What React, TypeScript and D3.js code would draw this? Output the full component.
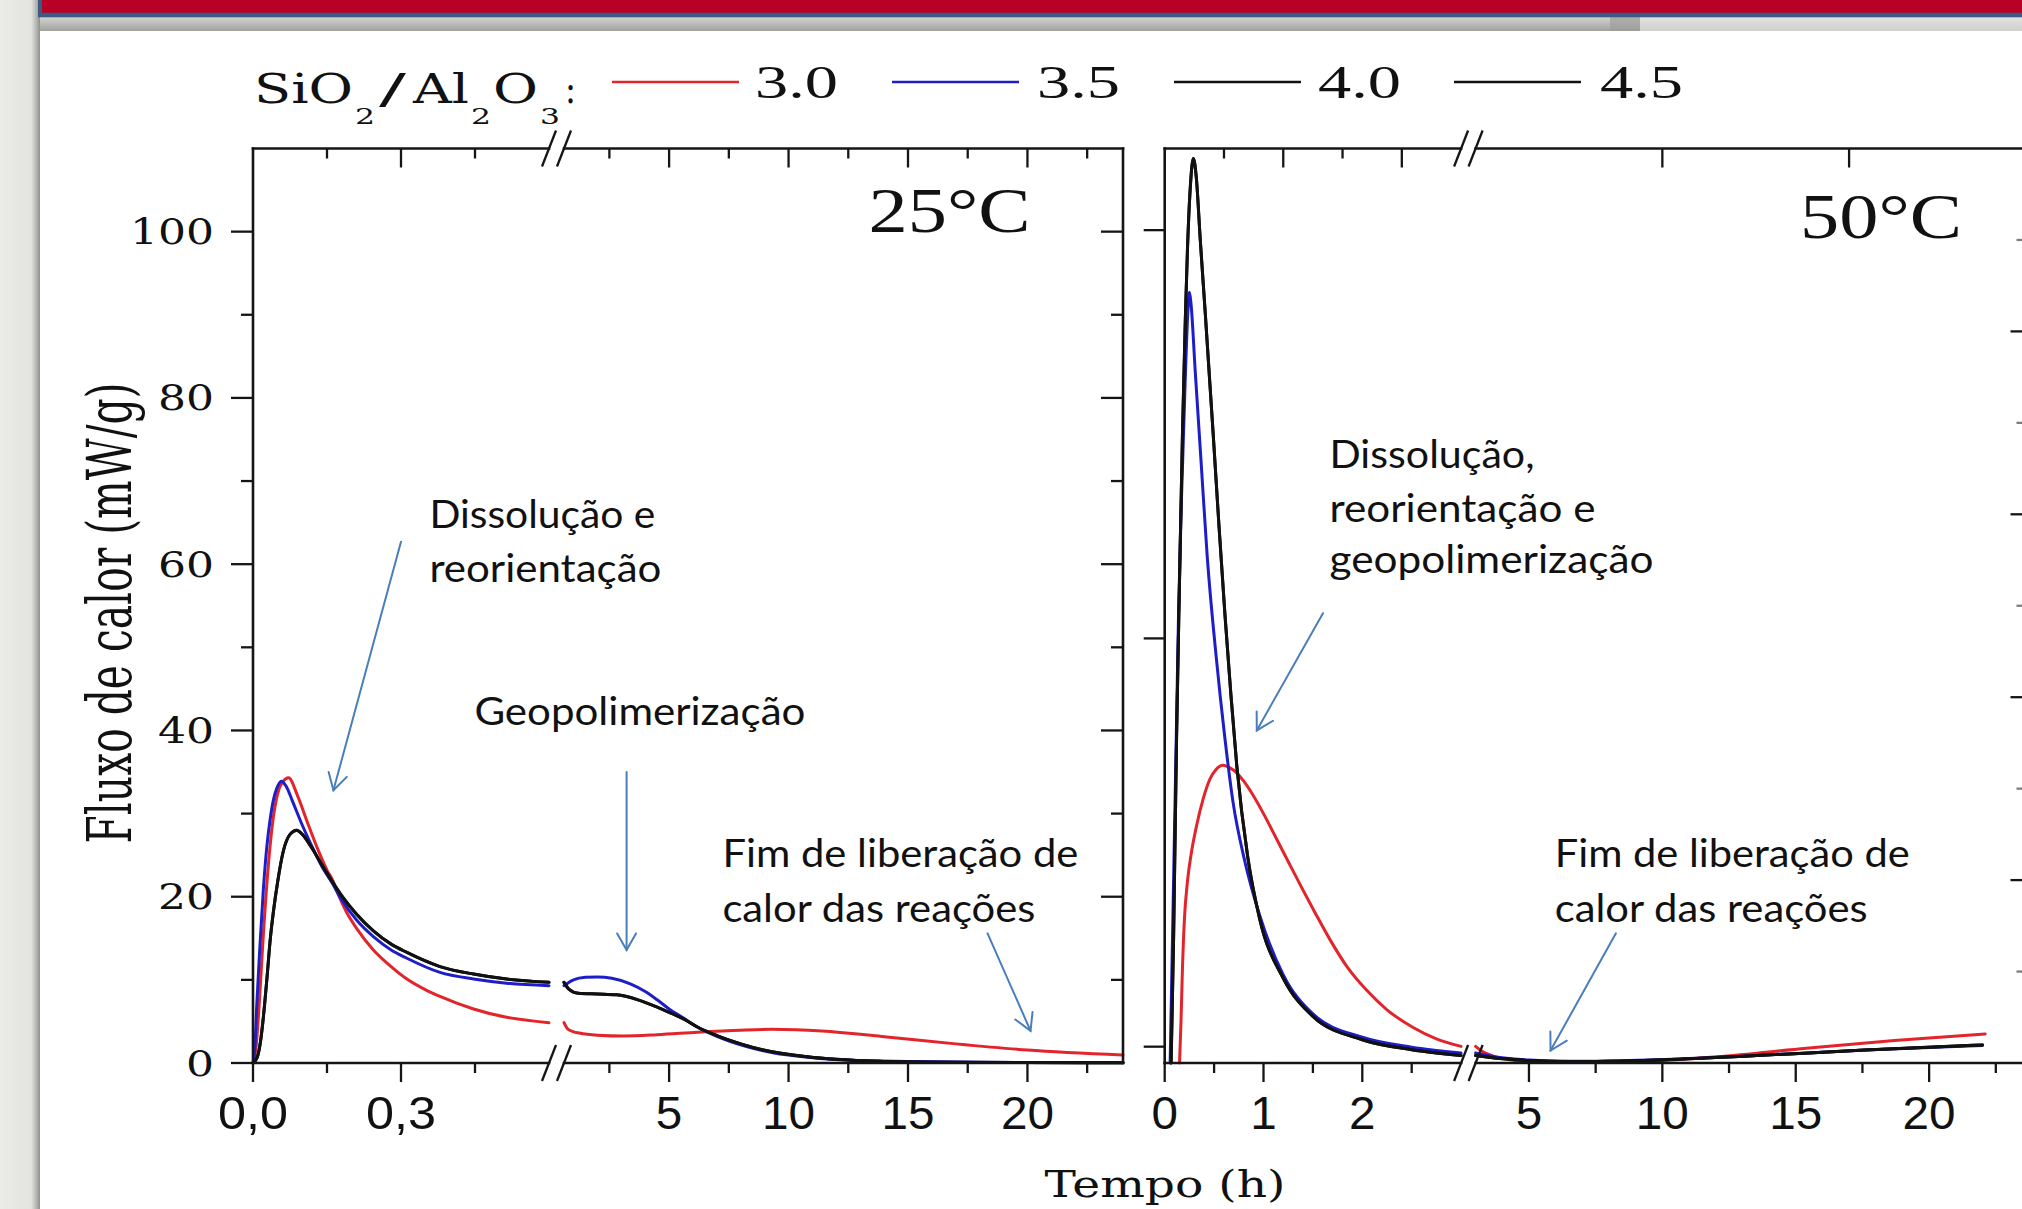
import React from 'react';
import * as d3 from 'd3';

type Pt = [number, number];

// ===== Series: SiO2/Al2O3 ratio =====
const RATIOS = ['3.0', '3.5', '4.0', '4.5'];
const COLORS = ['#e2242b', '#1e1ec8', '#111111', '#111111'];

// ===== 25 °C, segment A (0 – 0.6 h) : [time h, heat flow mW/g] =====
const c25a_30: Pt[] = [[0,0],[0.006,1.8],[0.012,6.5],[0.02,14.5],[0.03,23],[0.04,29],[0.05,32.4],[0.06,33.8],[0.072,34.3],[0.09,32.2],[0.11,29],[0.13,25.9],[0.15,23.2],[0.162,21.9],[0.17,20.7],[0.19,18.1],[0.21,16.2],[0.244,13.6],[0.28,11.6],[0.312,10.1],[0.35,8.8],[0.379,8.0],[0.447,6.5],[0.514,5.5],[0.6,4.85]];
const c25a_35: Pt[] = [[0,0],[0.004,2],[0.0075,6.8],[0.014,14],[0.021,20.9],[0.028,26],[0.0345,29.2],[0.042,31.8],[0.048,33],[0.058,33.9],[0.068,33.2],[0.08,31.5],[0.1,28.6],[0.12,26],[0.14,23.6],[0.16,21.7],[0.18,19.6],[0.21,17.2],[0.244,15.2],[0.28,13.6],[0.312,12.6],[0.379,10.9],[0.447,10.1],[0.514,9.6],[0.6,9.3]];
const c25a_40: Pt[] = [[0,0],[0.008,0.6],[0.015,2.5],[0.021,5.5],[0.028,10],[0.035,14.9],[0.042,18.5],[0.05,21.8],[0.0615,25.5],[0.075,27.5],[0.0886,28],[0.1,27.5],[0.12,25.8],[0.14,23.8],[0.162,21.7],[0.18,20.1],[0.21,17.9],[0.244,15.9],[0.28,14.3],[0.312,13.3],[0.379,11.6],[0.447,10.7],[0.514,10.1],[0.6,9.7]];
const c25a_45: Pt[] = [[0,0],[0.008,0.6],[0.015,2.5],[0.021,5.5],[0.028,10],[0.035,14.9],[0.042,18.5],[0.05,21.8],[0.0615,25.5],[0.075,27.5],[0.0886,28],[0.1,27.5],[0.12,25.8],[0.14,23.8],[0.162,21.7],[0.18,20.1],[0.21,17.9],[0.244,15.9],[0.28,14.3],[0.312,13.3],[0.379,11.6],[0.447,10.7],[0.514,10.1],[0.6,9.7]];

// ===== 25 °C, segment B (0.6 – 24 h) =====
const c25b_30: Pt[] = [[0.6,4.85],[0.75,4.1],[1.0,3.75],[1.24,3.6],[2.0,3.35],[3.1,3.25],[4.5,3.4],[6.2,3.7],[8.0,3.95],[9.3,4.05],[10.3,4.0],[11.4,3.85],[13.9,3.2],[17,2.3],[20,1.56],[24,0.96]];
const c25b_35: Pt[] = [[0.6,9.3],[0.75,9.6],[1.0,10.0],[1.5,10.3],[2.0,10.35],[2.6,10.2],[3.4,9.5],[4.0,8.6],[4.5,7.6],[5.0,6.5],[5.6,5.4],[6.2,4.3],[7.0,3.2],[8.2,2.0],[9.4,1.2],[10.8,0.7],[11.8,0.45],[13.8,0.25],[15.4,0.18],[18,0.1],[21,0.06],[24,0.05]];
const c25b_40: Pt[] = [[0.6,9.7],[0.8,8.9],[1.2,8.4],[2.0,8.3],[2.8,8.2],[3.7,7.6],[4.6,6.6],[5.0,6.1],[5.6,5.3],[6.2,4.3],[7.0,3.3],[8.0,2.3],[8.9,1.6],[10.8,0.76],[12.0,0.45],[13.8,0.2],[16,0.1],[20,0.05],[24,0.02]];
const c25b_45: Pt[] = [[0.6,9.7],[0.8,8.9],[1.2,8.4],[2.0,8.3],[2.8,8.2],[3.7,7.6],[4.6,6.6],[5.0,6.1],[5.6,5.3],[6.2,4.3],[7.0,3.3],[8.0,2.3],[8.9,1.6],[10.8,0.76],[12.0,0.45],[13.8,0.2],[16,0.1],[20,0.05],[24,0.02]];

// ===== 50 °C, segment A (0 – 3 h) =====
const c50a_30: Pt[] = [[0.15,0],[0.165,5],[0.18,11.5],[0.2,17.4],[0.23,21.8],[0.27,25.3],[0.32,28.4],[0.39,31.8],[0.46,34.2],[0.52,35.3],[0.59,35.8],[0.66,35.5],[0.72,35.0],[0.8,33.9],[0.89,32.3],[1.0,30.0],[1.13,27.0],[1.26,24.0],[1.4,20.8],[1.53,17.9],[1.67,14.9],[1.85,11.5],[2.04,8.8],[2.25,6.4],[2.51,4.3],[2.75,2.9],[3.0,2.0]];
const c50a_35: Pt[] = [[0.055,0],[0.09,22],[0.12,41],[0.14,53.9],[0.17,68],[0.21,83],[0.235,90.5],[0.25,92.7],[0.265,91.5],[0.31,83],[0.37,72],[0.43,61],[0.52,49],[0.61,39],[0.69,31.5],[0.81,24.3],[0.96,17.8],[1.2,10.6],[1.5,5.9],[2.0,3.1],[2.5,1.9],[3.0,1.2]];
const c50a_40: Pt[] = [[0.065,0],[0.09,15],[0.12,39],[0.15,58],[0.18,75.8],[0.21,90],[0.23,97.7],[0.26,105.5],[0.29,108.8],[0.32,106.5],[0.36,99],[0.41,90.3],[0.49,75.8],[0.55,64.5],[0.61,53.9],[0.67,44.3],[0.73,35.7],[0.84,24.8],[0.96,17.4],[1.2,10.2],[1.5,5.6],[2.0,2.8],[2.5,1.6],[3.0,0.9]];
const c50a_45: Pt[] = [[0.065,0],[0.09,15],[0.12,39],[0.15,58],[0.18,75.8],[0.21,90],[0.23,97.7],[0.26,105.5],[0.29,108.8],[0.32,106.5],[0.36,99],[0.41,90.3],[0.49,75.8],[0.55,64.5],[0.61,53.9],[0.67,44.3],[0.73,35.7],[0.84,24.8],[0.96,17.4],[1.2,10.2],[1.5,5.6],[2.0,2.8],[2.5,1.6],[3.0,0.9]];

// ===== 50 °C, segment B (3 – 22 h) =====
const c50b_30: Pt[] = [[3.0,2.0],[3.24,1.4],[3.7,0.8],[4.35,0.36],[5.0,0.15],[5.67,0.05],[7.0,0.05],[8.75,0.1],[10.5,0.4],[12.06,0.76],[15.4,1.77],[18.7,2.7],[22.1,3.5]];
const c50b_35: Pt[] = [[3.0,1.2],[3.7,0.75],[4.35,0.5],[5.0,0.35],[6.55,0.2],[8.0,0.25],[9.86,0.4],[13.2,0.85],[17.6,1.55],[22.0,2.1]];
const c50b_40: Pt[] = [[3.0,0.9],[3.7,0.6],[4.35,0.44],[5.0,0.3],[6.55,0.16],[8.0,0.2],[9.86,0.36],[13.2,0.84],[17.6,1.56],[22.0,2.17]];
const c50b_45: Pt[] = [[3.0,0.9],[3.7,0.6],[4.35,0.44],[5.0,0.3],[6.55,0.16],[8.0,0.2],[9.86,0.36],[13.2,0.84],[17.6,1.56],[22.0,2.17]];

// ===== ticks =====
const Y_MAJOR = [0, 20, 40, 60, 80, 100];
const Y_MINOR = [10, 30, 50, 70, 90];
const X25A_MAJOR = [0, 0.3];
const X25A_MINOR = [0.15, 0.45];
const X25A_LABELS = ['0,0', '0,3'];
const X25B_MAJOR = [5, 10, 15, 20];
const X25B_MINOR = [2.5, 7.5, 12.5, 17.5, 22.5];
const X50A_MAJOR = [0, 1, 2];
const X50A_MINOR = [0.5, 1.5, 2.5];
const X50B_MAJOR = [5, 10, 15, 20];
const X50B_MINOR = [7.5, 12.5, 17.5, 22.5];
const X50A_TOP_MAJOR = [1.2, 2.4];
const X50A_TOP_MINOR = [0.6, 1.8];
const X50B_TOP_MAJOR = [10, 17];
const Y50_TICKS = [0, 50, 100];
const EDGE_MAJOR = [0.2, 0.4, 0.6, 0.8];
const EDGE_MINOR = [0.1, 0.3, 0.5, 0.7, 0.9];

// annotation arrows: [segment, from(t,v), to(t,v)]
const ARROWS: { seg: string; from: Pt; to: Pt }[] = [
  { seg: '25a', from: [0.300, 62.7], to: [0.163, 32.8] },
  { seg: '25b', from: [3.22, 35.0], to: [3.22, 13.6] },
  { seg: '25b', from: [18.33, 15.6], to: [20.13, 3.87] },
  { seg: '50a', from: [1.602, 54.1], to: [0.932, 40.0] },
  { seg: '50b', from: [8.26, 15.6], to: [5.81, 1.5] },
];

const SERIF = "'DejaVu Serif', serif";
const TIMES = "'Liberation Serif', 'Times New Roman', serif";
const SANS = "'Liberation Sans', Arial, sans-serif";
const CALI = "Lato, 'Open Sans', sans-serif";

const W = 2022, H = 1209;

// scales
const y = d3.scaleLinear().domain([0, 110]).range([1063, 148.5]);
const y50t = d3.scaleLinear().domain([-2, 110]).range([1063, 148.5]);
const yEdge = d3.scaleLinear().domain([0, 1]).range([1063, 148.5]);
const x25a = d3.scaleLinear().domain([0, 0.6]).range([253, 549]);
const x25b = d3.scaleLinear().domain([0.6, 24]).range([564, 1123]);
const x50a = d3.scaleLinear().domain([0, 3]).range([1164.7, 1461.1]);
const x50b = d3.scaleLinear().domain([3, 23.8]).range([1475.6, 2030.5]);
const SCALES: Record<string, d3.ScaleLinear<number, number>> = { '25a': x25a, '25b': x25b, '50a': x50a, '50b': x50b };

const Y0 = y(0);
const YT = y(110);
const AX = '#151515';
const AXW = 2.6;

function Txt(p: { x: number; y: number; w?: number; size: number; family: string; anchor?: string; children: any; fill?: string }) {
  return (
    <text x={p.x} y={p.y} fontSize={p.size} fontFamily={p.family} textAnchor={p.anchor || 'start'}
      textLength={p.w} lengthAdjust={p.w ? 'spacingAndGlyphs' : undefined} fill={p.fill || '#111'}>{p.children}</text>
  );
}

function Slash({ cx, cy }: { cx: number; cy: number }) {
  return <line x1={cx - 7} y1={cy + 18} x2={cx + 7} y2={cy - 18} stroke={AX} strokeWidth={2.3} />;
}

function Arrow({ x1, y1, x2, y2 }: { x1: number; y1: number; x2: number; y2: number }) {
  const ang = Math.atan2(y2 - y1, x2 - x1);
  const L = 19, a = 0.52;
  const hx1 = x2 - L * Math.cos(ang - a), hy1 = y2 - L * Math.sin(ang - a);
  const hx2 = x2 - L * Math.cos(ang + a), hy2 = y2 - L * Math.sin(ang + a);
  return (
    <g stroke="#4a7ebb" strokeWidth={2} fill="none" strokeLinecap="round">
      <line x1={x1} y1={y1} x2={x2} y2={y2} />
      <polyline points={`${hx1},${hy1} ${x2},${y2} ${hx2},${hy2}`} />
    </g>
  );
}

function Curves({ sets, xs }: { sets: Pt[][]; xs: d3.ScaleLinear<number, number> }) {
  const line = d3.line<Pt>().x(d => xs(d[0])).y(d => y(d[1])).curve(d3.curveMonotoneX);
  return (
    <g fill="none" strokeWidth={3} strokeLinejoin="round" strokeLinecap="round">
      {sets.map((s, i) => <path key={i} d={line(s) || ''} stroke={COLORS[i]} />)}
    </g>
  );
}

function XTicks({ xs, major, minor, top }: { xs: any; major: number[]; minor: number[]; top?: boolean }) {
  const base = top ? YT : Y0;
  return (
    <g stroke={AX} strokeWidth={2.3}>
      {major.map(t => <line key={'M' + t} x1={xs(t)} x2={xs(t)} y1={base} y2={base + 19} />)}
      {minor.map(t => <line key={'m' + t} x1={xs(t)} x2={xs(t)} y1={base} y2={base + 10} />)}
    </g>
  );
}

export default function App() {
  const s25a = [c25a_30, c25a_35, c25a_40, c25a_45];
  const s25b = [c25b_30, c25b_35, c25b_40, c25b_45];
  const s50a = [c50a_30, c50a_35, c50a_40, c50a_45];
  const s50b = [c50b_30, c50b_35, c50b_40, c50b_45];

  const digitW = 28;
  const sansW = (s: string) => s.split('').reduce((a, c) => a + (c === ',' ? 17 : 26.5), 0);

  return (
    <svg width={W} height={H} viewBox={`0 0 ${W} ${H}`}
      style={{ position: 'absolute', left: 0, top: 0, display: 'block', background: '#fff' }}>
      <defs>
        <linearGradient id="leftStrip" x1="0" x2="1" y1="0" y2="0">
          <stop offset="0" stopColor="#ebebe7" />
          <stop offset="0.78" stopColor="#e3e3df" />
          <stop offset="0.9" stopColor="#b8b8b4" />
          <stop offset="1" stopColor="#8e8e8a" />
        </linearGradient>
        <linearGradient id="topShadow" x1="0" x2="0" y1="0" y2="1">
          <stop offset="0" stopColor="#d2d2ce" />
          <stop offset="1" stopColor="#a2a29e" />
        </linearGradient>
        <linearGradient id="topShadowR" x1="0" x2="0" y1="0" y2="1">
          <stop offset="0" stopColor="#e2e2e0" />
          <stop offset="1" stopColor="#cfcfcd" />
        </linearGradient>
      </defs>

      {/* slide background */}
      <rect x={0} y={0} width={W} height={H} fill="#ffffff" />
      <rect x={0} y={0} width={40} height={H} fill="url(#leftStrip)" />
      <rect x={40} y={17} width={W - 40} height={14} fill="url(#topShadow)" />
      <rect x={1640} y={17} width={W - 1640} height={14} fill="url(#topShadowR)" />
      <rect x={1610} y={17} width={30} height={14} fill="#9a9a96" opacity={0.6} />
      <rect x={38} y={0} width={W - 38} height={17.3} fill="#3b5b84" />
      <rect x={42} y={0} width={W - 42} height={12.7} fill="#b90026" />

      {/* ===== legend ===== */}
      <Txt x={254} y={103} w={99} size={41} family={SERIF}>SiO</Txt>
      <Txt x={355} y={124} w={20} size={22} family={SERIF}>2</Txt>
      <Txt x={379} y={103} w={27} size={41} family={SERIF}>/</Txt>
      <Txt x={413} y={103} w={56} size={41} family={SERIF}>Al</Txt>
      <Txt x={471} y={124} w={20} size={22} family={SERIF}>2</Txt>
      <Txt x={493} y={103} w={45} size={41} family={SERIF}>O</Txt>
      <Txt x={540} y={124} w={20} size={22} family={SERIF}>3</Txt>
      <Txt x={565} y={103} w={11} size={41} family={SERIF}>:</Txt>
      {RATIOS.map((r, i) => {
        const lx = [612, 892, 1174, 1454][i];
        const tx = [755, 1037, 1318, 1600][i];
        return (
          <g key={r}>
            <line x1={lx} x2={lx + 127} y1={82} y2={82} stroke={COLORS[i]} strokeWidth={2.6} />
            <Txt x={tx} y={98} w={83} size={47} family={TIMES}>{r}</Txt>
          </g>
        );
      })}

      {/* ===== curves ===== */}
      <Curves sets={s25a} xs={x25a} />
      <Curves sets={s25b} xs={x25b} />
      <Curves sets={s50a} xs={x50a} />
      <Curves sets={s50b} xs={x50b} />

      {/* ===== left panel (25 °C) frame ===== */}
      <g stroke={AX} strokeWidth={AXW} strokeLinecap="square">
        <line x1={x25a(0)} x2={x25a(0)} y1={YT} y2={Y0} />
        <line x1={x25b(24)} x2={x25b(24)} y1={YT} y2={Y0} />
        <line x1={x25a(0)} x2={x25a(0.6)} y1={Y0} y2={Y0} />
        <line x1={x25b(0.6)} x2={x25b(24)} y1={Y0} y2={Y0} />
        <line x1={x25a(0)} x2={x25a(0.6)} y1={YT} y2={YT} />
        <line x1={x25b(0.6)} x2={x25b(24)} y1={YT} y2={YT} />
      </g>
      <Slash cx={x25a(0.6)} cy={Y0} />
      <Slash cx={x25b(0.6)} cy={Y0} />
      <Slash cx={x25a(0.6)} cy={YT} />
      <Slash cx={x25b(0.6)} cy={YT} />
      <XTicks xs={x25a} major={X25A_MAJOR} minor={X25A_MINOR} />
      <XTicks xs={x25b} major={X25B_MAJOR} minor={X25B_MINOR} />
      <XTicks xs={x25a} major={X25A_MAJOR.filter(t => t > 0)} minor={X25A_MINOR} top />
      <XTicks xs={x25b} major={X25B_MAJOR} minor={X25B_MINOR} top />
      <g stroke={AX} strokeWidth={2.3}>
        {Y_MAJOR.map(v => <line key={'yl' + v} x1={x25a(0) - 22} x2={x25a(0)} y1={y(v)} y2={y(v)} />)}
        {Y_MINOR.map(v => <line key={'yl' + v} x1={x25a(0) - 12} x2={x25a(0)} y1={y(v)} y2={y(v)} />)}
        {Y_MAJOR.filter(v => v > 0).map(v => <line key={'yr' + v} x1={x25b(24) - 22} x2={x25b(24)} y1={y(v)} y2={y(v)} />)}
        {Y_MINOR.map(v => <line key={'yr' + v} x1={x25b(24) - 12} x2={x25b(24)} y1={y(v)} y2={y(v)} />)}
      </g>
      {Y_MAJOR.map(v => (
        <Txt key={'ylab' + v} x={214} y={y(v) + 12.5} w={String(v).length * digitW} size={36} family={SERIF} anchor="end">{String(v)}</Txt>
      ))}
      {X25A_MAJOR.map((t, i) => (
        <Txt key={'x25a' + t} x={x25a(t)} y={1129} w={sansW(X25A_LABELS[i])} size={46} family={SANS} anchor="middle">{X25A_LABELS[i]}</Txt>
      ))}
      {X25B_MAJOR.map(t => (
        <Txt key={'x25b' + t} x={x25b(t)} y={1129} w={sansW(String(t))} size={46} family={SANS} anchor="middle">{String(t)}</Txt>
      ))}

      {/* ===== right panel (50 °C) frame ===== */}
      <g stroke={AX} strokeWidth={AXW} strokeLinecap="square">
        <line x1={x50a(0)} x2={x50a(0)} y1={YT} y2={Y0} />
        <line x1={x50a(0)} x2={x50a(3)} y1={Y0} y2={Y0} />
        <line x1={x50b(3)} x2={x50b(23.8)} y1={Y0} y2={Y0} />
        <line x1={x50a(0)} x2={x50a(3)} y1={YT} y2={YT} />
        <line x1={x50b(3)} x2={x50b(23.8)} y1={YT} y2={YT} />
        <line x1={x50b(23.8)} x2={x50b(23.8)} y1={YT} y2={Y0} />
      </g>
      <Slash cx={x50a(3)} cy={Y0} />
      <Slash cx={x50b(3)} cy={Y0} />
      <Slash cx={x50a(3)} cy={YT} />
      <Slash cx={x50b(3)} cy={YT} />
      <XTicks xs={x50a} major={X50A_MAJOR} minor={X50A_MINOR} />
      <XTicks xs={x50b} major={X50B_MAJOR} minor={X50B_MINOR} />
      <XTicks xs={x50a} major={X50A_TOP_MAJOR} minor={X50A_TOP_MINOR} top />
      <XTicks xs={x50b} major={X50B_TOP_MAJOR} minor={[]} top />
      <g stroke={AX} strokeWidth={2.3}>
        {Y50_TICKS.map(v => <line key={'y50' + v} x1={x50a(0) - 21} x2={x50a(0)} y1={y50t(v)} y2={y50t(v)} />)}
        {EDGE_MAJOR.map(v => <line key={'ye' + v} x1={x50b(23.8) - 20} x2={x50b(23.8)} y1={yEdge(v)} y2={yEdge(v)} />)}
        {EDGE_MINOR.map(v => <line key={'ye' + v} x1={x50b(23.8) - 14} x2={x50b(23.8)} y1={yEdge(v)} y2={yEdge(v)} opacity={0.55} />)}
      </g>
      {X50A_MAJOR.map(t => (
        <Txt key={'x50a' + t} x={x50a(t)} y={1129} w={sansW(String(t))} size={46} family={SANS} anchor="middle">{String(t)}</Txt>
      ))}
      {X50B_MAJOR.map(t => (
        <Txt key={'x50b' + t} x={x50b(t)} y={1129} w={sansW(String(t))} size={46} family={SANS} anchor="middle">{String(t)}</Txt>
      ))}

      {/* temperatures */}
      <Txt x={868.6} y={231.7} w={162} size={63} family={TIMES}>25°C</Txt>
      <Txt x={1800} y={238.3} w={162} size={63} family={TIMES}>50°C</Txt>

      {/* axis titles */}
      <text transform="translate(131,613) scale(1.3,1) rotate(-90)" fontSize={48} fontFamily={SERIF}
        textAnchor="middle" textLength={461} lengthAdjust="spacingAndGlyphs" fill="#111">Fluxo de calor (mW/g)</text>
      <Txt x={1044.5} y={1197} w={241} size={37} family={SERIF}>Tempo (h)</Txt>

      {/* annotations */}
      <Txt x={429.4} y={528} w={226} size={39} family={CALI}>Dissolução e</Txt>
      <Txt x={429.4} y={582} w={232} size={39} family={CALI}>reorientação</Txt>
      <Txt x={474.4} y={725} w={331} size={39} family={CALI}>Geopolimerização</Txt>
      <Txt x={722.4} y={866.7} w={356} size={39} family={CALI}>Fim de liberação de</Txt>
      <Txt x={722.4} y={921.7} w={313} size={39} family={CALI}>calor das reações</Txt>
      <Txt x={1329.5} y={468.3} w={205} size={39} family={CALI}>Dissolução,</Txt>
      <Txt x={1329.5} y={521.7} w={266} size={39} family={CALI}>reorientação e</Txt>
      <Txt x={1329.5} y={573.3} w={324} size={39} family={CALI}>geopolimerização</Txt>
      <Txt x={1554.7} y={866.7} w={355} size={39} family={CALI}>Fim de liberação de</Txt>
      <Txt x={1554.7} y={921.7} w={313} size={39} family={CALI}>calor das reações</Txt>
      {ARROWS.map((a, i) => {
        const xs = SCALES[a.seg];
        return <Arrow key={i} x1={xs(a.from[0])} y1={y(a.from[1])} x2={xs(a.to[0])} y2={y(a.to[1])} />;
      })}
    </svg>
  );
}
